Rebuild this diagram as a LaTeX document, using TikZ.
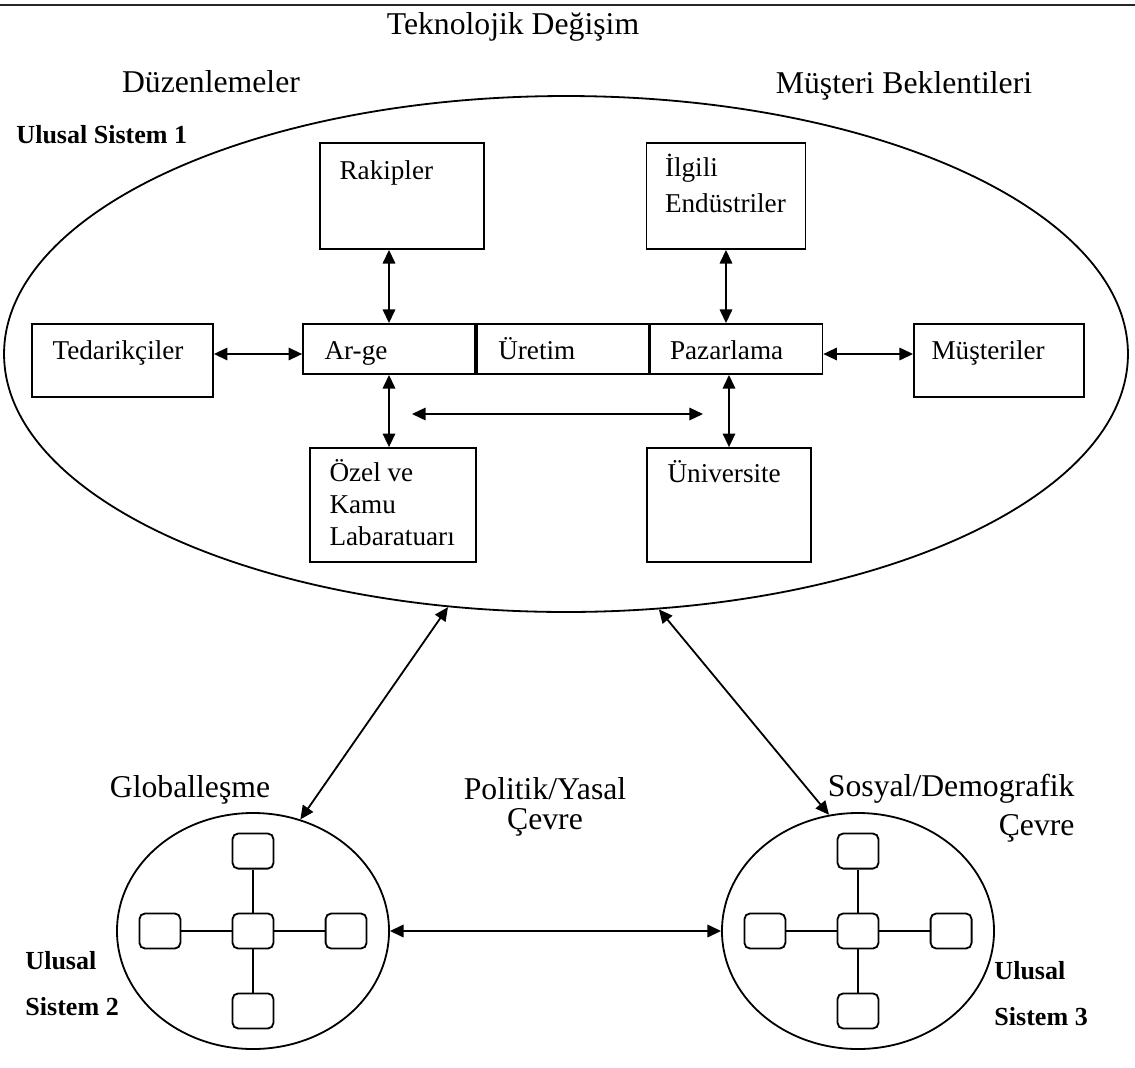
\documentclass[tikz,border=0pt]{standalone}
\usepackage{fontspec}
\setmainfont{Liberation Serif}
\usetikzlibrary{arrows.meta, positioning, shapes.geometric}

\newcommand{\boxfont}{\fontsize{12}{15}\selectfont}
\newcommand{\headfont}{\fontsize{14}{17}\selectfont}
\newcommand{\tagfont}{\fontsize{11.5}{14}\selectfont\bfseries}

\tikzset{
  unit/.style = {draw, line width=0.8pt, inner sep=0pt},
  caption/.style = {anchor=base west, font=\boxfont, align=left, inner sep=0pt},
  head/.style = {font=\headfont, inner sep=0pt},
  tag/.style = {font=\tagfont, align=left, inner sep=0pt, anchor=base west},
  system/.style = {draw, ellipse, line width=0.8pt, inner sep=0pt},
  cell/.style = {draw, rounded corners=2.5pt, line width=0.8pt, minimum width=18.1pt,
    minimum height=15.5pt, inner sep=0pt},
  link/.style = {line width=0.8pt, {Triangle[length=6pt,width=5.5pt]}-{Triangle[length=6pt,width=5.5pt]}},
}

\begin{document}
\begin{tikzpicture}[x=0.4415pt, y=-0.4415pt]
  \useasboundingbox (0,0) rectangle (1135,1068);
  \draw[line width=1.2pt, black!85] (0,5) -- (1135,5);

  % outer labels
  \node[head, anchor=base] (tech) at (513,34) {Teknolojik Değişim};
  \node[head, anchor=base] (regs) at (211,92) {Düzenlemeler};
  \node[head, anchor=base] (expect) at (904,93) {Müşteri Beklentileri};
  \node[tag] (nat1) at (16,143) {Ulusal Sistem 1};

  % national system 1
  \node[system, minimum width=496.2pt, minimum height=227.8pt] (sys1) at (566,354) {};
  \node[unit, minimum width=79.9pt, minimum height=32.2pt] (supp) at (122.5,360.5) {};
  \node[unit, minimum width=75.9pt, minimum height=22.1pt] (rnd) at (389,349) {};
  \node[unit, minimum width=75.9pt, minimum height=22.1pt] (prod) [right=0pt of rnd] {};
  \node[unit, minimum width=75.9pt, minimum height=22.1pt] (mkt) [right=0pt of prod] {};
  \node[unit, minimum width=75.1pt, minimum height=32.2pt] (cust) at (999,360.5) {};
  \node[unit, minimum width=72.4pt, minimum height=46.8pt] (rival) at (402,196) {};
  \node[unit, minimum width=70.2pt, minimum height=46.8pt] (indus) at (726,196) {};
  \node[unit, minimum width=73.3pt, minimum height=50.3pt] (labs) at (393,505) {};
  \node[unit, minimum width=72.4pt, minimum height=50.3pt] (univ) at (729,505) {};

  \node[caption] (supp-t) at ([shift={(21,36)}]supp.north west) {Tedarikçiler};
  \node[caption] (rnd-t) at ([shift={(22,36)}]rnd.north west) {Ar-ge};
  \node[caption] (prod-t) at ([shift={(22,36)}]prod.north west) {Üretim};
  \node[caption] (mkt-t) at ([shift={(20,36)}]mkt.north west) {Pazarlama};
  \node[caption] (cust-t) at ([shift={(18,36)}]cust.north west) {Müşteriler};
  \node[caption] (rival-t) at ([shift={(20,37)}]rival.north west) {Rakipler};
  \node[caption] (indus-t) at ([shift={(19,70)}]indus.north west) {İlgili\\[0.5pt]Endüstriler};
  \node[caption] (labs-t) at ([shift={(20,98)}]labs.north west) {Özel ve\\[-1pt]Kamu\\[-1pt]Labaratuarı};
  \node[caption] (univ-t) at ([shift={(21,35)}]univ.north west) {Üniversite};

  \coordinate (row) at (0,354);
  \coordinate (flowL) at (412,414);
  \coordinate (flowR) at (703,414);
  \draw[link] (supp.east |- row) -- (rnd.west |- row);
  \draw[link] (mkt.east |- row) -- (cust.west |- row);
  \draw[link] (rival.south -| rnd) -- (rnd.north);
  \draw[link] (indus.south) -- (indus.south |- mkt.north);
  \draw[link] (rnd.south) -- (rnd.south |- labs.north);
  \draw[link] (mkt.south -| univ.north) -- (univ.north);
  \draw[link] (flowL) -- (flowR);

  % national systems 2 and 3
  \node[system, minimum width=120.1pt, minimum height=104.2pt] (sys2) at (253,931) {};
  \node[system, minimum width=120.1pt, minimum height=104.2pt] (sys3) at (858,931) {};
  \begin{scope}[node distance=35.3pt and 41.1pt, on grid]
    \node[cell] (hubL) at (sys2.center) {};
    \node[cell] (nL) [above=of hubL] {};
    \node[cell] (sL) [below=of hubL] {};
    \node[cell] (wL) [left=of hubL] {};
    \node[cell] (eL) [right=of hubL] {};
    \node[cell] (hubR) at (sys3.center) {};
    \node[cell] (nR) [above=of hubR] {};
    \node[cell] (sR) [below=of hubR] {};
    \node[cell] (wR) [left=of hubR] {};
    \node[cell] (eR) [right=of hubR] {};
  \end{scope}
  \path[line width=0.8pt]
    (hubL) edge (nL) edge (sL) edge (wL) edge (eL)
    (hubR) edge (nR) edge (sR) edge (wR) edge (eR);

  \draw[link] (sys1.245) -- (sys2.67);
  \draw[link] (sys1.290) -- (sys3.104);
  \draw[link] (sys2.east) -- (sys3.west);

  \node[head, anchor=base] (glob) at (190,797) {Globalleşme};
  \node[head, anchor=base, align=center] (polit) at (545,829) {Politik/Yasal\\[-3.8pt]Çevre};
  \node[head, anchor=base east, align=right] (social) at (1075,835) {Sosyal/Demografik\\Çevre};
  \node[tag] (nat2) at (25,1015) {Ulusal\\[6pt]Sistem 2};
  \node[tag] (nat3) at (994,1025) {Ulusal\\[6pt]Sistem 3};
\end{tikzpicture}
\end{document}
